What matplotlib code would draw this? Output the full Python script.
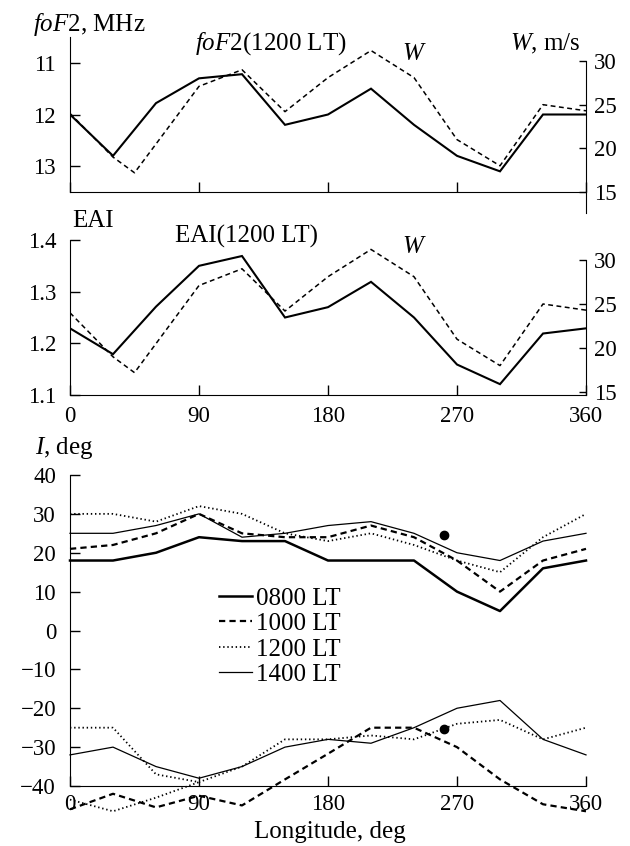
import numpy as np
import matplotlib.pyplot as plt

plt.rcParams['font.family'] = 'Liberation Serif'
plt.rcParams['mathtext.fontset'] = 'custom'
plt.rcParams['mathtext.rm'] = 'Liberation Serif'
plt.rcParams['mathtext.it'] = 'Liberation Serif:italic'
plt.rcParams['lines.scale_dashes'] = False
plt.rcParams['font.size'] = 16.5

# Data
lon = [0, 30, 60, 90, 120, 150, 180, 210, 240, 270, 300, 330, 360]
fof2 = [12.0, 12.8, 11.78, 11.3, 11.22, 12.2, 12.0, 11.5, 12.2, 12.8, 13.1, 12.0, 12.0]
eai = [1.229, 1.179, 1.271, 1.35, 1.369, 1.25, 1.27, 1.319, 1.25, 1.159, 1.121, 1.219, 1.229]

w_lon = [0, 30, 45, 90, 120, 150, 180, 210, 240, 270, 300, 330, 360]
w = [24.0, 19.0, 17.2, 27.1, 29.0, 24.2, 28.1, 31.2, 28.1, 21.0, 18.0, 25.0, 24.3]

# inclination, northern branch
i_0800 = [18, 18, 20, 24, 23, 23, 18, 18, 18, 10, 5, 16, 18]
i_1000_n = [21, 22, 25, 30, 25, 24, 24, 27, 24, 18, 10, 18, 21]
i_1200_n = [30, 30, 28, 32, 30, 25, 23, 25, 22, 18, 15, 24, 30]
i_1400_n = [25, 25, 27, 30, 24, 25, 27, 28, 25, 20, 18, 23, 25]
# southern branch
i_1000_s = [-46, -42, -45.5, -42.5, -45, -38.3, -31.7, -25, -25, -30, -38.3, -44.7, -46.5]
i_1200_s = [-25, -25, -37, -39, -35, -28, -28, -27, -28, -24, -23, -28, -25]
i_1400_s = [-32, -30, -35, -38, -35, -30, -28, -29, -25, -20, -18, -28, -32]
lon_1200_s2 = [0, 30, 60, 90]
i_1200_s2 = [-43.5, -46.5, -43, -39]

dot_lon = [261, 261]
dot_i = [24.5, -25.3]

W_PX, H_PX = 630, 846
LABEL_FS = 18


def box(left, top, right, bottom):
    return [left / W_PX, 1 - bottom / H_PX, (right - left) / W_PX, (bottom - top) / H_PX]


def ftext(x, y, s, **kw):
    fig.text(x / W_PX, 1 - y / H_PX, s, va='baseline', fontsize=LABEL_FS, **kw)


fig = plt.figure(figsize=(6.3, 8.46), dpi=100)

solid_kw = dict(color='black', lw=1.5, solid_joinstyle='miter')
dash_kw = dict(color='black', lw=1.1, dashes=(3.5, 2.5))

# ---- top panel: foF2 and W
ax1 = fig.add_axes(box(70, 37, 586, 192))
ax1.plot(lon, fof2, **solid_kw)
ax1.set_xlim(0, 360)
ax1.set_ylim(13.5, 10.5)
ax1.set_yticks([11, 12, 13])
ax1.set_xticks([0, 90, 180, 270, 360])
ax1.tick_params(axis='y', direction='in', length=7, width=1, pad=10)
ax1.tick_params(axis='x', direction='in', length=7, width=1, labelbottom=False)
for s in ['top', 'right']:
    ax1.spines[s].set_visible(False)

ax1b = ax1.twinx()
ax1b.plot(w_lon, w, **dash_kw)
ax1b.set_ylim(15, 32.75)
ax1b.set_yticks([15, 20, 25, 30])
ax1b.tick_params(axis='y', direction='in', length=5, width=1, pad=6)
for s in ['top', 'left', 'bottom']:
    ax1b.spines[s].set_visible(False)
ax1b.spines['right'].set_bounds(12.6, 30)

ftext(33, 31, r'$foF$2, MHz')
ftext(195, 50, r'$foF$2(1200 LT)')
ftext(402, 60, r'$W$')
ftext(510, 50, r'$W$, m/s')

# ---- middle panel: EAI and W
ax2 = fig.add_axes(box(70, 240, 586, 395))
ax2.plot(lon, eai, **solid_kw)
ax2.set_xlim(0, 360)
ax2.set_ylim(1.1, 1.4)
ax2.set_yticks([1.1, 1.2, 1.3, 1.4])
ax2.set_xticks([0, 90, 180, 270, 360])
ax2.tick_params(axis='y', direction='in', length=7, width=1, pad=10)
ax2.tick_params(axis='x', direction='in', length=7, width=1, pad=8)
for s in ['top', 'right']:
    ax2.spines[s].set_visible(False)

ax2b = ax2.twinx()
ax2b.plot(w_lon, w, **dash_kw)
ax2b.set_ylim(14.66, 32.27)
ax2b.set_yticks([15, 20, 25, 30])
ax2b.tick_params(axis='y', direction='in', length=5, width=1, pad=6)
for s in ['top', 'left', 'bottom']:
    ax2b.spines[s].set_visible(False)
ax2b.spines['right'].set_bounds(14.66, 30)

ftext(72, 227, 'EAI')
ftext(175, 243, 'EAI(1200 LT)')
ftext(402, 253, r'$W$')

# ---- bottom panel: inclination
ax3 = fig.add_axes(box(70, 475, 586, 786))
l0800, = ax3.plot(lon, i_0800, color='black', lw=1.8, clip_on=False, label='0800 LT')
l1000, = ax3.plot(lon, i_1000_n, color='black', lw=1.6, dashes=(4.5, 3), clip_on=False, label='1000 LT')
l1200, = ax3.plot(lon, i_1200_n, color='black', lw=1.3, dashes=(1, 2), clip_on=False, label='1200 LT')
l1400, = ax3.plot(lon, i_1400_n, color='black', lw=0.9, clip_on=False, label='1400 LT')
ax3.plot(lon, i_1000_s, color='black', lw=1.6, dashes=(4.5, 3), clip_on=False)
ax3.plot(lon, i_1200_s, color='black', lw=1.3, dashes=(1, 2), clip_on=False)
ax3.plot(lon_1200_s2, i_1200_s2, color='black', lw=1.3, dashes=(1, 2), clip_on=False)
ax3.plot(lon, i_1400_s, color='black', lw=0.9, clip_on=False)
ax3.plot(dot_lon, dot_i, 'o', color='black', ms=6, clip_on=False)

ax3.set_xlim(0, 360)
ax3.set_ylim(-40, 40)
ax3.set_yticks(np.arange(-40, 41, 10))
ax3.set_yticklabels(['\u221240', '\u221230', '\u221220', '\u221210', '0', '10', '20', '30', '40'])
ax3.set_xticks([0, 90, 180, 270, 360])
ax3.tick_params(axis='y', direction='in', length=7, width=1, pad=10)
ax3.tick_params(axis='x', direction='in', length=7, width=1, pad=6)
for s in ['top', 'right']:
    ax3.spines[s].set_visible(False)

ax3.legend(handles=[l0800, l1000, l1200, l1400], loc='upper left',
           bbox_to_anchor=((219 - 70) / 516, (786 - 587) / 311),
           frameon=False, borderpad=0, borderaxespad=0, handlelength=1.3,
           handletextpad=0.2, labelspacing=0.12, fontsize=LABEL_FS)

ftext(35, 454, r'$I$, deg')
ftext(330, 838, 'Longitude, deg', ha='center')

fig.savefig('out.png', dpi=100)
